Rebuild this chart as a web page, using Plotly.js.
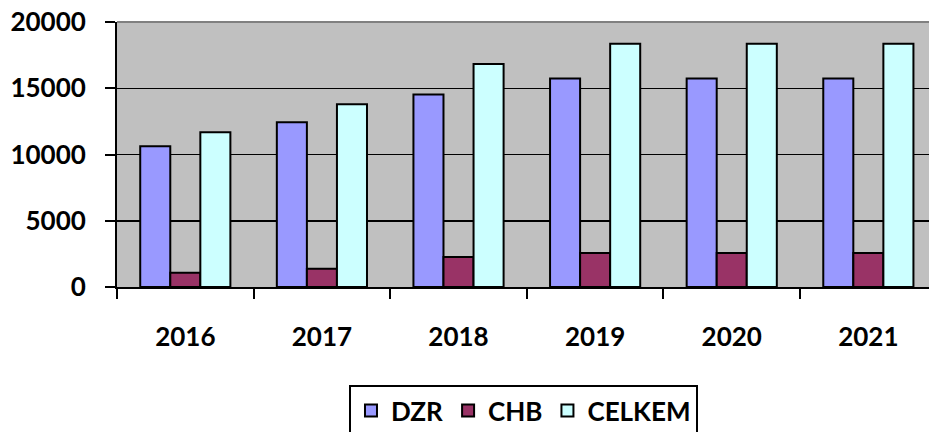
<!DOCTYPE html>
<html>
<head>
<meta charset="utf-8">
<script src="https://cdn.plot.ly/plotly-3.0.1.min.js"></script>
<style>html,body{margin:0;padding:0;background:#fff;}#chart{width:929px;height:432px;}</style>
</head>
<body>
<div id="chart"></div>
<script>
const years = ["2016", "2017", "2018", "2019", "2020", "2021"];
const dzr = [10630, 12430, 14530, 15740, 15740, 15740];
const chb = [1080, 1370, 2260, 2570, 2570, 2570];
const celkem = [11680, 13800, 16830, 18350, 18350, 18350];
const yTicks = [0, 5000, 10000, 15000, 20000];

const FONT = "Lato, 'Open Sans', sans-serif";
function bar(name, y, color) {
  return {
    type: "bar", name: name, x: years, y: y,
    marker: {color: color, line: {color: "#000", width: 2}},
    hoverinfo: "x+y+name"
  };
}
const data = [
  bar("DZR", dzr, "#9999FF"),
  bar("CHB", chb, "#993366"),
  bar("CELKEM", celkem, "#CCFFFF")
];
const layout = {
  width: 929, height: 432,
  margin: {l: 117, r: 0, t: 22, b: 145, pad: 0, autoexpand: false},
  paper_bgcolor: "#ffffff",
  plot_bgcolor: "#C0C0C0",
  barmode: "group", bargap: 0.34, bargroupgap: 0,
  font: {family: FONT, size: 26, color: "#000"},
  xaxis: {
    type: "category", range: [-0.5, 5.444], fixedrange: true,
    showline: true, linecolor: "#000", linewidth: 2,
    ticks: "outside", tickson: "boundaries", ticklen: 10, tickwidth: 2, tickcolor: "#000",
    tickfont: {family: FONT, size: 26, color: "#000", weight: "bold"},
    ticklabelstandoff: 26,
    showgrid: false
  },
  yaxis: {
    range: [0, 20000], tickvals: yTicks, ticktext: yTicks.map(String),
    showline: true, linecolor: "#000", linewidth: 2,
    ticks: "outside", ticklen: 10, tickwidth: 2, tickcolor: "#000",
    tickfont: {family: FONT, size: 26, color: "#000", weight: "bold"},
    ticklabelstandoff: 14,
    showgrid: true, gridcolor: "#000", gridwidth: 1.5,
    zeroline: false
  },
  shapes: [
    {type: "line", xref: "paper", yref: "paper", x0: 0, x1: 1, y0: 1, y1: 1,
     line: {color: "#808080", width: 2}, layer: "above"}
  ],
  showlegend: true,
  legend: {
    orientation: "h", x: 0.2857, xanchor: "left", y: -0.37, yanchor: "top",
    bordercolor: "#000", borderwidth: 2, bgcolor: "#fff",
    font: {family: FONT, size: 26, color: "#000", weight: "bold"},
    itemwidth: 30, tracegroupgap: 0
  }
};
Plotly.newPlot("chart", data, layout, {displayModeBar: false, staticPlot: true});
</script>
</body>
</html>
